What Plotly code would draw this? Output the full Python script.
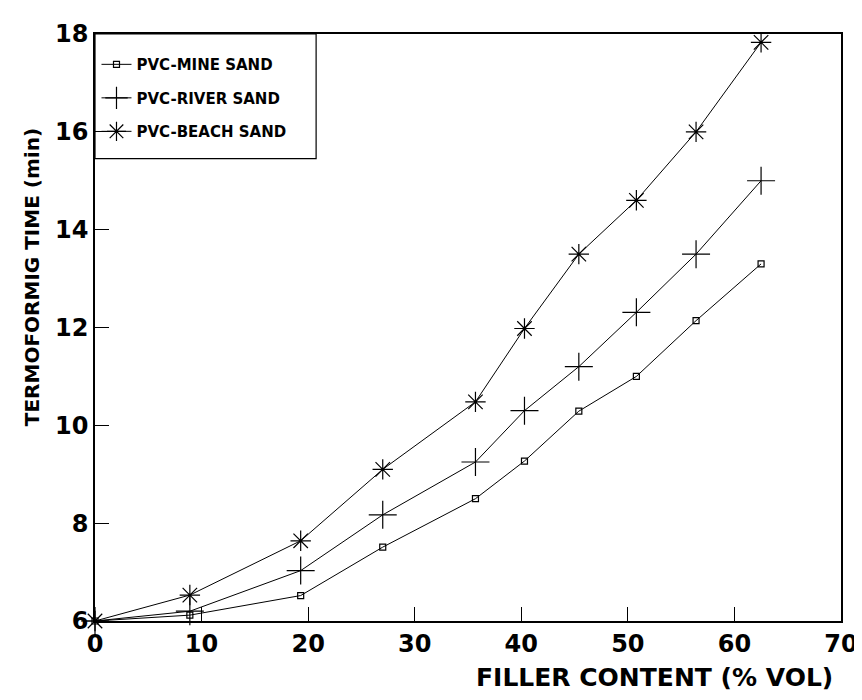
import plotly.graph_objects as go

filler = [0, 8.9, 19.3, 27.0, 35.7, 40.3, 45.4, 50.8, 56.4, 62.5]
mine_sand = [6.0, 6.12, 6.52, 7.51, 8.50, 9.27, 10.29, 11.0, 12.14, 13.30]
river_sand = [6.0, 6.2, 7.03, 8.17, 9.25, 10.30, 11.2, 12.31, 13.5, 15.0]
beach_sand = [6.0, 6.53, 7.64, 9.10, 10.48, 11.98, 13.5, 14.6, 16.0, 17.83]

names = ["PVC-MINE SAND", "PVC-RIVER SAND", "PVC-BEACH SAND"]
FONT = "DejaVu Sans, Verdana, sans-serif"

fig = go.Figure()
specs = [
    (mine_sand, names[0], "square-open", 6),
    (river_sand, names[1], "cross-thin-open", 20),
    (beach_sand, names[2], "asterisk-open", 17),
]
for i, (ys, nm, sym, sz) in enumerate(specs):
    fig.add_trace(go.Scatter(
        x=filler, y=ys, name=nm, mode="lines+markers",
        line=dict(color="black", width=1),
        marker=dict(symbol=sym, size=sz, color="black",
                    line=dict(color="black", width=1.2)),
        cliponaxis=False, legendgroup=f"g{i}",
    ))

# legend frame (layout decoration)
fig.add_shape(type="rect", xref="paper", yref="paper",
              x0=0, x1=0.2964, y0=0.7877, y1=1.0,
              line=dict(color="black", width=1.2),
              fillcolor="white", layer="below")

fig.update_layout(
    width=862, height=700,
    margin=dict(l=86.5, r=18, t=22, b=87),
    paper_bgcolor="white", plot_bgcolor="white",
    showlegend=True,
    legend=dict(
        x=0.002, y=0.976, xanchor="left", yanchor="top",
        borderwidth=0, bgcolor="rgba(0,0,0,0)",
        font=dict(family=FONT, size=15, color="black", weight="bold"),
        tracegroupgap=11, itemwidth=30,
    ),
    xaxis=dict(
        range=[0, 70], dtick=10, tick0=0,
        showline=True, linecolor="black", linewidth=1.5, mirror=True,
        ticks="inside", ticklen=14, tickwidth=1.2, tickcolor="black",
        showgrid=False, zeroline=False,
        tickfont=dict(family=FONT, size=24, color="black", weight="bold"),
    ),
    yaxis=dict(
        range=[6, 18], dtick=2, tick0=6,
        showline=True, linecolor="black", linewidth=1.5, mirror=True,
        ticks="inside", ticklen=14, tickwidth=1.2, tickcolor="black",
        showgrid=False, zeroline=False,
        tickfont=dict(family=FONT, size=24, color="black", weight="bold"),
    ),
    annotations=[
        dict(text="FILLER CONTENT (% VOL)", xref="paper", yref="paper",
             x=0.7505, y=-0.0956, xanchor="center", yanchor="middle",
             showarrow=False,
             font=dict(family=FONT, size=25, color="black", weight="bold")),
        dict(text="TERMOFORMIG TIME (min)", xref="paper", yref="paper",
             x=-0.085, y=0.585, xanchor="center", yanchor="middle",
             textangle=-90, showarrow=False,
             font=dict(family=FONT, size=20, color="black", weight="bold")),
    ],
)

fig.write_html("out.html")
